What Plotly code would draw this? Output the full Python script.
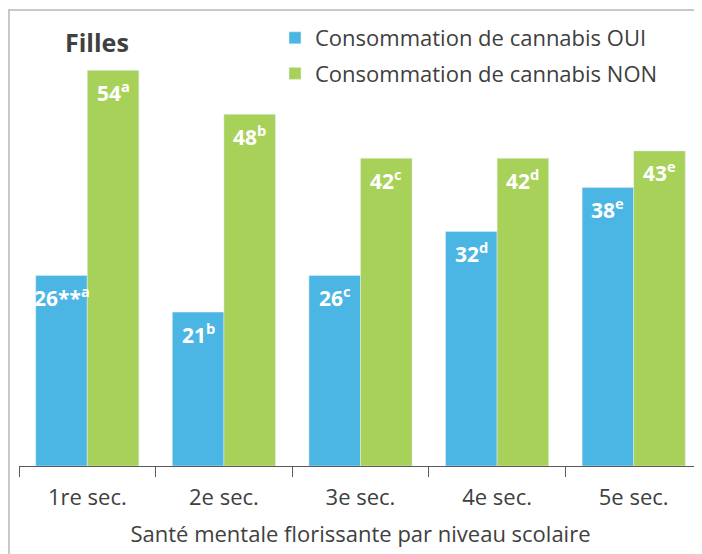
import plotly.graph_objects as go

categories = ["1re sec.", "2e sec.", "3e sec.", "4e sec.", "5e sec."]
oui_values = [26, 21, 26, 32, 38]
non_values = [54, 48, 42, 42, 43]
oui_labels = ["26**<sup>a</sup>", "21<sup>b</sup>", "26<sup>c</sup>", "32<sup>d</sup>", "38<sup>e</sup>"]
non_labels = ["54<sup>a</sup>", "48<sup>b</sup>", "42<sup>c</sup>", "42<sup>d</sup>", "43<sup>e</sup>"]
series_names = ["Consommation de cannabis OUI", "Consommation de cannabis NON"]

BLUE = "#4BB5E3"
GREEN = "#A8D15A"
FONT = "Open Sans"
TXT = "#404040"

W, H = 702, 554
ML, MR, MT, MB = 11, 8, 11, 96

fig = go.Figure()
fig.add_trace(go.Bar(x=categories, y=oui_values, name=series_names[0], marker_color=BLUE,
                     legendgroup="oui"))
fig.add_trace(go.Bar(x=categories, y=non_values, name=series_names[1], marker_color=GREEN,
                     legendgroup="non"))

pw = W - ML - MR
ph = H - MT - MB
cat_w = pw / len(categories)
bargap = 0.245
bar_w = cat_w * (1 - bargap) / 2

for cat, v, lab in zip(categories, oui_values, oui_labels):
    fig.add_annotation(x=cat, y=v, text=lab, showarrow=False, xref="x", yref="y",
                       xshift=-bar_w / 2, yshift=-21, yanchor="middle",
                       font=dict(family=FONT, size=21, color="white", weight="bold"))
for cat, v, lab in zip(categories, non_values, non_labels):
    fig.add_annotation(x=cat, y=v, text=lab, showarrow=False, xref="x", yref="y",
                       xshift=bar_w / 2, yshift=-21, yanchor="middle",
                       font=dict(family=FONT, size=21, color="white", weight="bold"))


def px(x):
    return (x - ML) / pw


def py(y):
    return (H - MB - y) / ph


# Title "Filles"
fig.add_annotation(x=px(89), y=py(34), xref="paper", yref="paper",
                   text="<b>Filles</b>", showarrow=False, xanchor="center", yanchor="middle",
                   font=dict(family=FONT, size=25, color=TXT))

# Outer border
fig.add_shape(type="rect", xref="paper", yref="paper",
              x0=px(1), x1=px(720), y0=py(570), y1=py(2),
              line=dict(color="#C8C8C8", width=2), fillcolor="rgba(0,0,0,0)", layer="below")

fig.update_layout(
    width=W, height=H,
    margin=dict(l=ML, r=MR, t=MT, b=MB, autoexpand=False),
    barmode="group", bargap=bargap, bargroupgap=0,
    plot_bgcolor="white", paper_bgcolor="white",
    font=dict(family=FONT, color=TXT),
    showlegend=True,
    legend=dict(x=px(267), y=py(9), xanchor="left", yanchor="top",
                font=dict(family=FONT, size=22, color=TXT),
                bgcolor="rgba(0,0,0,0)", itemwidth=30,
                traceorder="grouped", tracegroupgap=4),
    xaxis=dict(showline=True, linecolor="#595959", linewidth=1,
               ticks="outside", tickson="boundaries", ticklen=10, tickcolor="#595959",
               ticklabelstandoff=12,
               tickfont=dict(family=FONT, size=22, color=TXT),
               automargin=False,
               title=dict(text="Santé mentale florissante par niveau scolaire",
                          font=dict(family=FONT, size=22, color=TXT), standoff=16)),
    yaxis=dict(range=[0, 61], visible=False, showgrid=False),
)

fig.write_html("out.html")
